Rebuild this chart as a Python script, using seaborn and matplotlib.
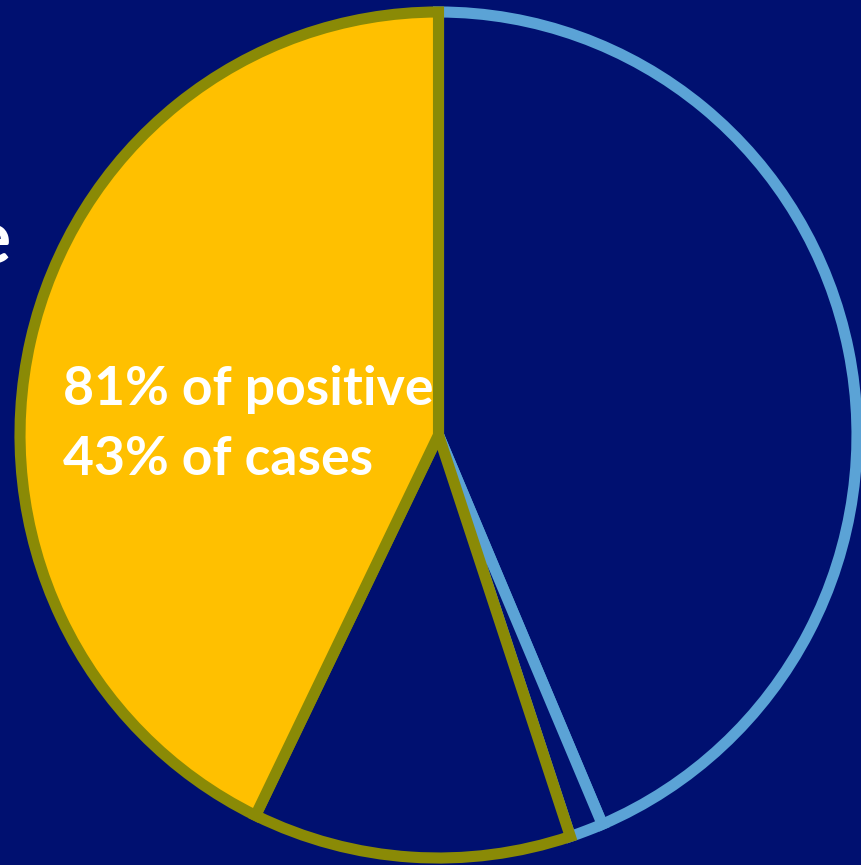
import matplotlib
matplotlib.use("Agg")
import matplotlib.pyplot as plt
import seaborn as sns
import numpy as np

sns.set_style("white")
plt.rcParams['font.family'] = ['Lato', 'DejaVu Sans']

# Data
categories = ["Positive (main)", "Positive (other)", "Small", "Negative"]
shares = [42.8, 12.3, 1.3, 43.6]
fill_colors = ["#FFC000", "#001070", "#001070", "#001070"]
edge_colors = ["#8A8A06", "#8A8A06", "#5BA3D6", "#5BA3D6"]
label_lines = ["81% of positive", "43% of cases"]

BG = "#001070"
W, H = 862, 865
fig = plt.figure(figsize=(W / 100, H / 100), dpi=100, facecolor=BG)
ax = fig.add_axes([0, 0, 1, 1], facecolor=BG)

cx, cy = 438.5, 435.0
rx, ry = 418.5, 423.0

wedges, _ = ax.pie(shares, colors=fill_colors, startangle=90, counterclock=True,
                   radius=1.0, center=(0, 0),
                   wedgeprops=dict(linewidth=8, joinstyle='miter'))
n = len(wedges)
for i, (w, ec) in enumerate(zip(wedges, edge_colors)):
    w.set_edgecolor(ec)
    w.set_zorder(10 + (n - i))

# Map pixel frame: ellipse slightly taller than wide
ax.set_aspect('auto')
ax.set_xlim(-cx / rx, (W - cx) / rx)
ax.set_ylim(-(H - cy) / ry, cy / ry)
ax.axis('off')

fig.text(63 / W, 1 - 405 / H, label_lines[0], color='white', fontsize=38.5,
         fontweight='bold', ha='left', va='baseline', zorder=30)
fig.text(63 / W, 1 - 475 / H, label_lines[1], color='white', fontsize=38.5,
         fontweight='bold', ha='left', va='baseline', zorder=30)
fig.text(11 / W, 1 - 263 / H, "e", color='white', fontsize=53,
         fontweight='bold', ha='right', va='baseline', zorder=30)

fig.savefig("out.png", dpi=100, facecolor=BG)
